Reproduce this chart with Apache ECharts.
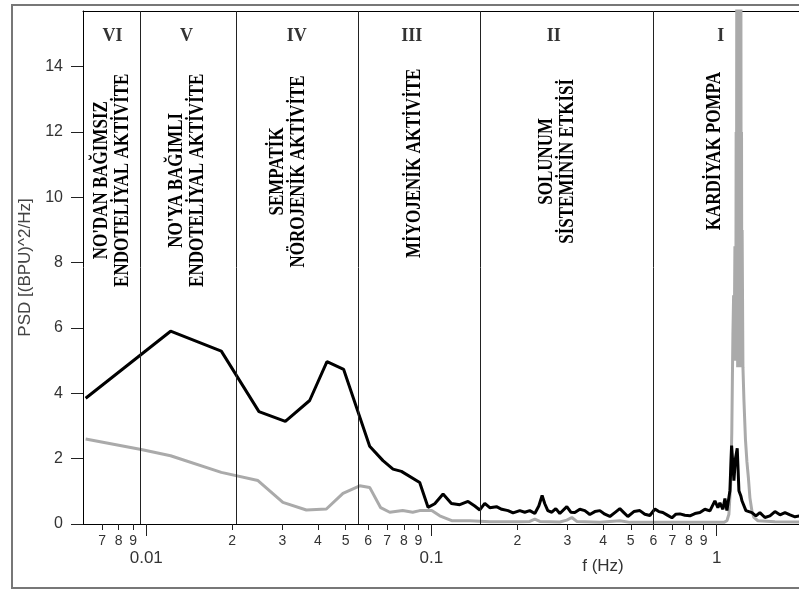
<!DOCTYPE html>
<html>
<head>
<meta charset="utf-8">
<script src="https://cdn.jsdelivr.net/npm/echarts@6/dist/echarts.min.js"></script>
<style>
html, body { margin: 0; padding: 0; background: #fff; }
#container { width: 799px; height: 590px; }
</style>
</head>
<body>
<div id="container"></div>
<script>
// frekans (Hz) ve PSD degerleri
var blackFreq = [0.00613, 0.01217, 0.01833, 0.02484, 0.03074, 0.03741, 0.04302, 0.04923, 0.06073, 0.06762,
    0.07332, 0.07847, 0.09097, 0.09729, 0.10271, 0.10984, 0.1175, 0.12571, 0.1344, 0.14188,
    0.14775, 0.15382, 0.16018, 0.16904, 0.17644, 0.18565, 0.19329, 0.20408, 0.21252, 0.22126,
    0.2304, 0.23795, 0.2444, 0.24975, 0.2559, 0.2643, 0.27298, 0.28195, 0.29836, 0.30816,
    0.31829, 0.33141, 0.34502, 0.35925, 0.37411, 0.38959, 0.40566, 0.42233, 0.43973, 0.4578,
    0.4728, 0.4884, 0.51275, 0.53814, 0.56036, 0.58345, 0.60745, 0.62738, 0.64802, 0.6693,
    0.69695, 0.71982, 0.7434, 0.77407, 0.80602, 0.83929, 0.87391, 0.9099, 0.94733, 0.98628,
    1.01063, 1.02705, 1.05221, 1.06937, 1.08674, 1.11342, 1.12878, 1.14077, 1.14999, 1.16411,
    1.18113, 1.19736, 1.21707, 1.22693, 1.26711, 1.32994, 1.37352, 1.4185, 1.47707, 1.53815,
    1.60176, 1.668, 1.73698, 1.80881, 1.88361, 1.96151];
var blackPsd = [3.85, 5.90, 5.29, 3.44, 3.14, 3.78, 4.97, 4.73, 2.38, 1.94,
    1.68, 1.61, 1.27, 0.51, 0.62, 0.92, 0.63, 0.59, 0.69, 0.55,
    0.43, 0.63, 0.50, 0.53, 0.45, 0.41, 0.34, 0.41, 0.36, 0.41,
    0.32, 0.55, 0.87, 0.62, 0.41, 0.36, 0.47, 0.32, 0.53, 0.36,
    0.35, 0.45, 0.41, 0.29, 0.38, 0.41, 0.30, 0.23, 0.35, 0.47,
    0.35, 0.23, 0.38, 0.41, 0.30, 0.26, 0.46, 0.38, 0.35, 0.28,
    0.19, 0.30, 0.31, 0.27, 0.25, 0.32, 0.35, 0.45, 0.40, 0.71,
    0.50, 0.65, 0.45, 0.78, 0.41, 1.02, 2.40, 1.80, 1.33, 2.00,
    2.32, 1.02, 0.85, 0.71, 0.41, 0.35, 0.25, 0.35, 0.20, 0.25,
    0.38, 0.28, 0.35, 0.28, 0.22, 0.25];

var grayFreq = [0.00613, 0.0096, 0.01217, 0.01833, 0.02464, 0.03014, 0.03642, 0.04281, 0.04895, 0.05603,
    0.06073, 0.06637, 0.07141, 0.07929, 0.08597, 0.09097, 0.10025, 0.10694, 0.11779, 0.13628,
    0.16018, 0.20408, 0.22126, 0.2304, 0.23988, 0.28195, 0.29836, 0.31064, 0.32336, 0.38959,
    0.4578, 0.49628, 0.63262, 0.87391, 1.06078, 1.08674, 1.10447, 1.1198, 1.1305, 1.1361,
    1.1407, 1.1471, 1.1528, 1.1593, 1.1651, 1.1680, 1.1708, 1.1736, 1.1765, 1.1793,
    1.1822, 1.1851, 1.1880, 1.1909, 1.1938, 1.1967, 1.1996, 1.2023, 1.2052, 1.2081,
    1.2111, 1.2140, 1.2170, 1.2199, 1.2229, 1.2259, 1.2289, 1.2369, 1.2468, 1.2620,
    1.2774, 1.2930, 1.3086, 1.3299, 1.3516, 1.39577, 1.60176, 1.96151];
var grayPsd = [2.60, 2.28, 2.09, 1.58, 1.33, 0.66, 0.43, 0.46, 0.94, 1.17,
    1.12, 0.50, 0.36, 0.41, 0.36, 0.41, 0.41, 0.25, 0.10, 0.10,
    0.07, 0.07, 0.08, 0.15, 0.08, 0.06, 0.12, 0.20, 0.08, 0.05,
    0.10, 0.05, 0.05, 0.05, 0.05, 0.10, 0.30, 1.20, 2.80, 4.50,
    5.80, 7.00, 5.50, 8.50, 5.00, 6.00, 12.0, 5.00, 16.0, 5.50,
    18.0, 4.80, 19.0, 6.00, 19.0, 4.80, 19.0, 6.00, 19.0, 4.80,
    18.0, 6.00, 16.0, 5.00, 12.0, 5.50, 9.00, 4.80, 3.80, 2.60,
    1.90, 1.40, 0.80, 0.40, 0.20, 0.10, 0.07, 0.06];

// bant sinirlari ve yazilari
var bandEdges = [0.0095, 0.0207, 0.0556, 0.148, 0.6];
var bandNumerals = ['VI', 'V', 'IV', 'III', 'II', 'I'];
var numeralFreq = [0.00762, 0.01384, 0.03369, 0.0853, 0.2686, 1.035];
var numeralPsd = 14.93;
var bandTitles = ["NO'DAN BAĞIMSIZ\nENDOTELİYAL AKTİVİTE", "NO'YA BAĞIMLI\nENDOTELİYAL AKTİVİTE",
    "SEMPATİK\nNÖROJENİK AKTİVİTE", "MİYOJENİK AKTİVİTE", "SOLUNUM\nSİSTEMİNİN ETKİSİ", "KARDİYAK POMPA"];
var titleFreq = [0.00759, 0.01396, 0.03157, 0.08738, 0.2763, 0.9863];
var titlePsd = [10.52, 10.52, 10.79, 11.04, 11.10, 11.41];

// eksen isaretleri
var majorTicks = [0.01, 0.1, 1];
var majorLabels = ['0.01', '0.1', '1'];
var minorTicks = [0.007, 0.008, 0.009, 0.02, 0.03, 0.04, 0.05, 0.06, 0.07, 0.08, 0.09,
    0.2, 0.3, 0.4, 0.5, 0.6, 0.7, 0.8, 0.9];
var minorLabels = ['7', '8', '9', '2', '3', '4', '5', '6', '7', '8', '9',
    '2', '3', '4', '5', '6', '7', '8', '9'];
var yTicks = [0, 2, 4, 6, 8, 10, 12, 14];

var fMin = 0.006, fMax = 1.945;

function pairs(xs, ys) {
    var out = [];
    for (var i = 0; i < xs.length; i++) out.push([xs[i], ys[i]]);
    return out;
}
function labelOf(ticks, labels) {
    return function (v) {
        for (var i = 0; i < ticks.length; i++) {
            if (Math.abs(ticks[i] - v) / ticks[i] < 1e-6) return labels[i];
        }
        return '';
    };
}

var numeralData = [];
for (var i = 0; i < bandNumerals.length; i++) {
    numeralData.push({ value: [numeralFreq[i], numeralPsd], name: bandNumerals[i] });
}
var edgeLines = bandEdges.map(function (f) { return [{ coord: [f, 0] }, { coord: [f, 15.7] }]; });

var myChart = echarts.init(document.getElementById('container'));
var option = {
    animation: false,
    backgroundColor: '#fff',
    grid: { left: 83, right: 0, top: 11, bottom: 66, containLabel: false, outerBoundsMode: 'none' },
    graphic: [{
        type: 'rect',
        shape: { x: 12, y: 5, width: 800, height: 583 },
        style: { fill: 'none', stroke: '#777', lineWidth: 2 },
        silent: true
    }],
    xAxis: [{
        type: 'log', min: fMin, max: fMax, position: 'bottom',
        name: 'f (Hz)', nameLocation: 'middle', nameGap: 34, nameMoveOverlap: false,
        nameTextStyle: { fontFamily: 'Liberation Sans', fontSize: 17, color: '#333', padding: [0, 0, 0, 324] },
        axisLine: { lineStyle: { color: '#000', width: 1 } },
        axisTick: { length: 12, customValues: majorTicks, lineStyle: { color: '#222' } },
        axisLabel: { customValues: majorTicks, formatter: labelOf(majorTicks, majorLabels),
            margin: 26, fontFamily: 'Liberation Sans', fontSize: 17, color: '#333' },
        splitLine: { show: false }
    }, {
        type: 'log', min: fMin, max: fMax, position: 'bottom',
        axisLine: { show: false },
        axisTick: { length: 6, customValues: minorTicks, lineStyle: { color: '#222' } },
        axisLabel: { customValues: minorTicks, formatter: labelOf(minorTicks, minorLabels),
            margin: 10, fontFamily: 'Liberation Sans Narrow, Liberation Sans', fontSize: 14, color: '#333' },
        splitLine: { show: false }
    }, {
        type: 'log', min: fMin, max: fMax, position: 'top',
        axisLine: { lineStyle: { color: '#000', width: 1 } },
        axisTick: { show: false }, axisLabel: { show: false }, splitLine: { show: false }
    }],
    yAxis: {
        type: 'value', min: 0, max: 15.7,
        name: 'PSD [(BPU)^2/Hz]', nameLocation: 'middle', nameGap: 41,
        nameTextStyle: { fontFamily: 'Liberation Sans', fontSize: 17, color: '#444' },
        axisLine: { show: true, lineStyle: { color: '#000', width: 1 } },
        axisTick: { show: true, length: 12, customValues: yTicks, lineStyle: { color: '#222' } },
        axisLabel: { customValues: yTicks, margin: 20, fontFamily: 'Liberation Sans', fontSize: 16, color: '#333' },
        splitLine: { show: false }
    },
    series: [{
        name: 'gri',
        type: 'line',
        xAxisIndex: 0,
        showSymbol: false,
        data: pairs(grayFreq, grayPsd),
        lineStyle: { color: '#aaa', width: 3 },
        z: 3
    }, {
        name: 'siyah',
        type: 'line',
        xAxisIndex: 0,
        showSymbol: false,
        data: pairs(blackFreq, blackPsd),
        lineStyle: { color: '#000', width: 3 },
        markLine: {
            silent: true,
            symbol: 'none',
            precision: 6,
            label: { show: false },
            lineStyle: { color: '#222', width: 1, type: 'solid' },
            data: edgeLines
        },
        z: 4
    }, {
        name: 'rakam',
        type: 'scatter',
        xAxisIndex: 0,
        symbolSize: 0,
        data: numeralData,
        label: {
            show: true, position: 'inside', formatter: '{b}',
            fontFamily: 'Liberation Serif', fontWeight: 'bold', fontSize: 18, color: '#000'
        },
        z: 5
    }, {
        name: 'baslik',
        type: 'custom',
        xAxisIndex: 0,
        data: pairs(titleFreq, titlePsd),
        encode: { x: 0, y: 1 },
        renderItem: function (params, api) {
            var p = api.coord([api.value(0), api.value(1)]);
            return {
                type: 'text',
                x: p[0], y: p[1],
                rotation: Math.PI / 2,
                scaleX: 0.85,
                style: {
                    text: bandTitles[params.dataIndex],
                    font: 'bold 20px "Liberation Serif"',
                    align: 'center', verticalAlign: 'middle',
                    lineHeight: 21,
                    fill: '#000'
                }
            };
        },
        z: 5
    }]
};
myChart.setOption(option);
</script>
</body>
</html>
